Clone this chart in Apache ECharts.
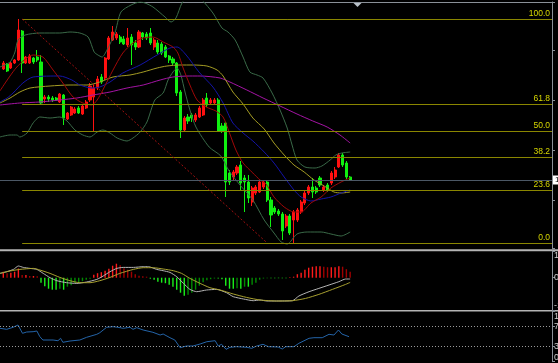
<!DOCTYPE html>
<html><head><meta charset="utf-8">
<script src="https://cdn.jsdelivr.net/npm/echarts@6/dist/echarts.min.js"></script>
<style>html,body{margin:0;padding:0;background:#000;overflow:hidden}#c{width:558px;height:363px}</style>
</head><body><div id="c"></div>
<script>
// ---- candles (bar index = position in arrays) ----
const open = [1.2931,1.2936,1.2932,1.2937,1.2940,1.2969,1.2937,1.2937,1.2942,1.2943,
1.2938,1.2901,1.2903,1.2902,1.2902,1.2898,1.2905,1.2881,1.2885,1.2887,
1.2892,1.2886,1.2892,1.2900,1.2903,1.2912,1.2923,1.2922,1.2941,1.2960,
1.2962,1.2963,1.2961,1.2955,1.2963,1.2957,1.2953,1.2967,1.2966,1.2967,
1.2953,1.2957,1.2956,1.2953,1.2944,1.2941,1.2937,1.2908,1.2870,1.2883,
1.2885,1.2880,1.2883,1.2885,1.2902,1.2897,1.2897,1.2900,1.2874,1.2877,
1.2827,1.2823,1.2827,1.2835,1.2822,1.2818,1.2798,1.2807,1.2808,1.2813,
1.2818,1.2800,1.2792,1.2789,1.2786,1.2774,1.2784,1.2780,1.2780,1.2788,
1.2797,1.2807,1.2813,1.2812,1.2822,1.2810,1.2815,1.2817,1.2823,1.2833,
1.2845,1.2837,1.2823];
const close = [1.2937,1.2929,1.2937,1.2940,1.2970,1.2937,1.2943,1.2944,1.2938,1.2940,
1.2897,1.2903,1.2901,1.2900,1.2900,1.2906,1.2882,1.2887,1.2893,1.2891,
1.2887,1.2894,1.2898,1.2914,1.2912,1.2921,1.2918,1.2942,1.2962,1.2968,
1.2966,1.2958,1.2956,1.2962,1.2955,1.2953,1.2968,1.2963,1.2962,1.2957,
1.2960,1.2948,1.2947,1.2943,1.2940,1.2937,1.2907,1.2870,1.2882,1.2879,
1.2882,1.2885,1.2892,1.2900,1.2895,1.2900,1.2900,1.2869,1.2869,1.2818,
1.2818,1.2828,1.2833,1.2817,1.2818,1.2802,1.2812,1.2813,1.2818,1.2818,
1.2800,1.2785,1.2788,1.2786,1.2769,1.2784,1.2767,1.2788,1.2790,1.2798,
1.2807,1.2813,1.2808,1.2808,1.2815,1.2813,1.2810,1.2827,1.2830,1.2845,
1.2835,1.2823,1.2820];
const low = [1.2930,1.2928,1.2931,1.2936,1.2939,1.2927,1.2936,1.2936,1.2936,1.2938,
1.2896,1.2897,1.2898,1.2898,1.2899,1.2897,1.2875,1.2880,1.2884,1.2886,
1.2886,1.2885,1.2891,1.2898,1.2868,1.2910,1.2916,1.2920,1.2940,1.2959,
1.2960,1.2956,1.2955,1.2953,1.2935,1.2950,1.2952,1.2960,1.2960,1.2955,
1.2950,1.2946,1.2945,1.2942,1.2937,1.2935,1.2904,1.2862,1.2868,1.2876,
1.2878,1.2878,1.2882,1.2884,1.2893,1.2895,1.2896,1.2868,1.2867,1.2803,
1.2815,1.2820,1.2825,1.2809,1.2788,1.2797,1.2794,1.2805,1.2807,1.2811,
1.2798,1.2773,1.2786,1.2784,1.2760,1.2772,1.2765,1.2757,1.2778,1.2786,
1.2795,1.2805,1.2802,1.2806,1.2813,1.2808,1.2808,1.2815,1.2821,1.2832,
1.2833,1.2821,1.2819];
const high = [1.2939,1.2937,1.2938,1.2941,1.2981,1.2970,1.2944,1.2946,1.2943,1.2950,
1.2945,1.2905,1.2905,1.2904,1.2903,1.2907,1.2906,1.2888,1.2894,1.2893,
1.2894,1.2896,1.2900,1.2917,1.2916,1.2924,1.2926,1.2943,1.2964,1.2974,
1.2968,1.2965,1.2964,1.2972,1.2966,1.2960,1.2970,1.2968,1.2968,1.2972,
1.2962,1.2960,1.2958,1.2955,1.2945,1.2943,1.2938,1.2910,1.2884,1.2886,
1.2887,1.2887,1.2894,1.2902,1.2907,1.2902,1.2902,1.2902,1.2877,1.2878,
1.2830,1.2830,1.2835,1.2839,1.2825,1.2825,1.2814,1.2815,1.2820,1.2820,
1.2820,1.2803,1.2794,1.2791,1.2788,1.2786,1.2786,1.2790,1.2792,1.2800,
1.2809,1.2815,1.2822,1.2814,1.2824,1.2815,1.2817,1.2829,1.2833,1.2847,
1.2847,1.2839,1.2824];

// ---- indicator lines, [bar index, value] ----
const bbUpper = [[-0.9,1.2933],[1.8,1.2938],[3.1,1.2948],[3.9,1.2960],[5.8,1.2965],[9.7,1.2967],[15.0,1.2967],[17.7,1.2968],[20.3,1.2967],[22.5,1.2963],[24.1,1.2948],[25.1,1.2945],[26.2,1.2943],[27.5,1.2950],[29.6,1.2967],[31.2,1.2988],[33.9,1.2995],[36.3,1.2998],[37.6,1.2997],[39.7,1.2993],[42.9,1.2983],[44.5,1.2978],[45.8,1.2982],[47.4,1.2997],[49.5,1.3006],[51.4,1.3004],[52.7,1.3000],[55.6,1.2987],[58.0,1.2972],[59.6,1.2968],[61.5,1.2960],[63.6,1.2943],[65.4,1.2928],[67.3,1.2925],[68.9,1.2922],[71.3,1.2907],[73.4,1.2890],[75.3,1.2872],[76.6,1.2855],[77.9,1.2840],[80.0,1.2833],[82.7,1.2832],[84.5,1.2834],[86.7,1.2840],[88.2,1.2845],[89.8,1.2847],[92.0,1.2848]];
const bbLower = [[-0.9,1.2863],[1.8,1.2865],[3.6,1.2865],[4.4,1.2863],[6.3,1.2867],[7.9,1.2877],[9.7,1.2883],[12.4,1.2882],[15.0,1.2883],[16.9,1.2879],[19.0,1.2870],[21.1,1.2865],[23.0,1.2863],[24.9,1.2868],[26.4,1.2870],[28.3,1.2867],[30.2,1.2862],[32.8,1.2859],[34.4,1.2862],[36.3,1.2868],[38.1,1.2878],[40.2,1.2900],[42.4,1.2907],[43.7,1.2920],[45.0,1.2928],[46.1,1.2932],[47.1,1.2925],[48.2,1.2908],[49.5,1.2890],[51.1,1.2873],[54.6,1.2853],[57.7,1.2844],[59.9,1.2829],[63.0,1.2814],[66.2,1.2800],[69.2,1.2780],[71.8,1.2767],[73.7,1.2758],[75.3,1.2756],[77.9,1.2766],[80.6,1.2768],[84.3,1.2768],[86.9,1.2766],[89.6,1.2764],[92.0,1.2768]];
const maRed = [[-0.9,1.2909],[3.6,1.2933],[7.9,1.2945],[10.5,1.2943],[13.2,1.2930],[15.8,1.2917],[18.5,1.2903],[21.1,1.2897],[23.5,1.2895],[24.9,1.2900],[26.4,1.2910],[29.1,1.2930],[31.7,1.2947],[34.4,1.2957],[37.1,1.2962],[39.7,1.2963],[42.4,1.2958],[45.0,1.2953],[46.3,1.2947],[47.7,1.2932],[49.5,1.2915],[51.4,1.2900],[53.8,1.2893],[56.4,1.2889],[58.3,1.2883],[59.9,1.2868],[61.7,1.2850],[63.6,1.2837],[66.2,1.2827],[68.1,1.2820],[69.7,1.2816],[71.8,1.2803],[74.5,1.2793],[77.1,1.2788],[79.0,1.2788],[81.6,1.2797],[84.3,1.2803],[86.9,1.2812],[89.6,1.2818],[92.0,1.2822]];
const maBlue = [[-0.9,1.2898],[1.0,1.2902],[2.6,1.2907],[5.2,1.2917],[7.9,1.2923],[15.0,1.2924],[18.2,1.2920],[20.3,1.2915],[23.5,1.2912],[25.6,1.2913],[28.3,1.2918],[31.7,1.2927],[36.3,1.2935],[40.8,1.2945],[44.2,1.2952],[46.1,1.2953],[48.5,1.2945],[51.9,1.2928],[55.6,1.2913],[58.3,1.2897],[60.9,1.2877],[63.6,1.2867],[66.2,1.2859],[69.2,1.2848],[71.8,1.2837],[74.5,1.2823],[77.1,1.2810],[79.0,1.2803],[81.6,1.2799],[84.3,1.2801],[86.9,1.2803],[89.6,1.2807],[92.0,1.2810]];
const maYellow = [[-0.9,1.2897],[1.8,1.2902],[4.4,1.2908],[7.1,1.2912],[12.4,1.2914],[17.7,1.2915],[22.2,1.2915],[25.6,1.2918],[29.1,1.2923],[33.6,1.2925],[37.1,1.2928],[40.8,1.2932],[43.4,1.2934],[46.9,1.2935],[50.3,1.2935],[54.0,1.2934],[56.7,1.2930],[58.3,1.2924],[60.9,1.2908],[63.6,1.2896],[66.2,1.2882],[69.2,1.2871],[71.8,1.2857],[74.5,1.2845],[77.1,1.2835],[79.8,1.2828],[82.4,1.2820],[85.1,1.2814],[87.7,1.2808],[89.6,1.2807],[92.0,1.2808]];
const maPurple = [[-0.9,1.2895],[4.4,1.2897],[9.7,1.2898],[15.0,1.2900],[19.5,1.2902],[23.8,1.2905],[28.3,1.2908],[32.8,1.2912],[37.1,1.2915],[41.6,1.2920],[45.0,1.2923],[49.5,1.2924],[52.2,1.2924],[57.5,1.2922],[60.1,1.2918],[64.6,1.2910],[68.9,1.2902],[73.4,1.2894],[77.9,1.2886],[82.1,1.2879],[85.9,1.2873],[89.3,1.2865],[92.0,1.2857]];

// ---- Fibonacci retracement ----
const fibLevels = [0.0, 23.6, 38.2, 50.0, 61.8, 100.0];
const fibHigh = 1.2981, fibLow = 1.2757;
const fibStartBar = 5, fibEndBar = 70;

// ---- MACD panel ----
const macdHist = [3,2.25,2.5,3,4.6,1.35,1.35,0.85,0.85,0.75,
-2.5,-4.25,-5.5,-6,-6,-5.5,-6,-4.5,-3.75,-2.75,
-2.25,-1.75,-1,-0.5,1.5,2.25,2.75,3.5,4.5,6,
7,6.25,4.75,4,3,1.75,1,0.75,0.5,-0.5,
-1,-2,-2.5,-2.75,-3.5,-4.5,-6,-7.5,-9,-8.5,
-7.5,-6,-4,-2.25,-1.25,-0.75,-0.4,-0.4,-0.75,-4,
-5.5,-5.5,-5.25,-5.5,-4.5,-4.5,-3.5,-2.5,-1,-0.4,
-0.25,-0.25,-0.25,-0.25,-0.25,-0.25,0.25,0.5,1.75,2.5,
4,5,5.5,5.75,5.75,5.5,5.25,5.25,5.25,5.75,
5.5,4.25,3];
const macdMain = [[-0.9,2.15],[0.9,3],[2.7,4.15],[4.0,5.85],[5.3,5.15],[7.1,4.65],[8.9,4.15],[10.6,2.15],[12.4,0],[14.2,-1.5],[16.8,-2.5],[19.5,-2.85],[22.1,-2.15],[24.8,-0.85],[26.5,0.85],[28.3,3],[30.1,4.65],[31.8,5.15],[34.5,5.15],[37.1,5.5],[38.5,5.5],[40.7,4.15],[42.4,3.5],[44.2,2.65],[46.0,0.5],[47.8,-2.85],[49.5,-5.85],[51.3,-7],[53.9,-6.15],[56.6,-5.85],[59.2,-7.5],[61.0,-9.5],[63.7,-10.65],[66.3,-11.5],[68.1,-11.15],[69.9,-11.65],[72.5,-11.65],[76.7,-11.5],[78.4,-9.15],[81.1,-7],[83.7,-5.35],[86.4,-3.65],[89.0,-2],[90.8,-0.65],[92.0,-0.65]];
const macdSignal = [[-0.9,2.15],[1.8,3.35],[4.4,4.15],[8.0,4.65],[9.7,3.85],[12.4,2.15],[15.0,0.15],[17.7,-1.5],[20.3,-2.5],[23.0,-2.5],[25.6,-1.5],[28.3,0.15],[30.9,2.15],[34.5,4.15],[37.1,5],[39.8,5],[42.4,4.35],[45.1,3.5],[47.3,2.15],[49.5,-0.35],[52.2,-2.85],[54.8,-5],[57.5,-6.15],[61.0,-8.15],[64.5,-9.85],[68.1,-11.15],[72.5,-11.65],[76.7,-11.5],[80.2,-10.35],[83.7,-8.35],[87.3,-5.85],[90.8,-3.35],[92.0,-2.35]];
const macdRange = [-16.15, 13.35];

// ---- RSI panel ----
const rsi = [[-0.9,66.8],[0.9,64.8],[2.6,68.8],[3.9,73.4],[5.1,56.8],[6.2,59.4],[7.9,60.0],[8.9,61.4],[9.7,50.0],[10.5,43.4],[13.2,43.4],[14.5,42.0],[15.2,46.8],[15.8,38.8],[17.7,41.4],[20.3,43.4],[22.1,48.8],[24.8,54.8],[25.6,58.0],[27.4,68.8],[29.1,70.0],[30.4,68.8],[31.8,66.8],[33.6,68.8],[34.4,64.8],[35.4,68.0],[37.1,63.4],[39.7,58.8],[41.6,53.4],[42.4,55.4],[44.2,48.0],[45.5,43.4],[46.9,28.0],[48.6,31.4],[50.3,31.4],[52.2,35.4],[54.0,40.0],[56.2,42.0],[57.0,31.4],[57.9,34.8],[59.1,24.8],[60.1,28.8],[61.9,30.0],[64.6,28.8],[65.9,26.8],[67.2,31.4],[68.9,34.8],[70.3,30.0],[72.9,29.4],[74.0,25.4],[74.9,30.0],[77.1,30.0],[78.4,36.8],[81.1,46.8],[82.4,48.0],[84.6,48.0],[86.4,54.8],[87.7,53.4],[88.9,63.4],[89.8,55.4],[91.7,50.0]];
const rsiLevels = [30, 70];
const rsiTicks = [0, 30, 70, 100];

// ---- build ----
const X_MIN = -0.875, X_MAX = 145.54;
const candles = open.map((o, i) => [i, o, close[i], low[i], high[i]]);
const lastClose = close[close.length - 1];
const GRAY = '#8a9098';
const FONT = 'Liberation Sans';

const fibMarks = fibLevels.map(l => {
  const p = fibLow + (fibHigh - fibLow) * l / 100;
  return [
    { coord: [fibStartBar, p], name: l.toFixed(1),
      lineStyle: { color: '#8a8600', width: 1, type: 'solid' },
      label: { show: true, position: 'insideEndTop', formatter: '{b}', color: '#d6d600',
               fontSize: 8.5, fontFamily: FONT, distance: [2, 1] } },
    { coord: [X_MAX, p] }
  ];
});
fibMarks.push([
  { coord: [fibStartBar, fibHigh], lineStyle: { color: '#a01010', width: 1, type: [2, 2] }, label: { show: false } },
  { coord: [fibEndBar, fibLow] }
]);
fibMarks.push({
  yAxis: lastClose, lineStyle: { color: '#4c5866', width: 1, type: 'solid' },
  label: { show: true, position: 'end', formatter: lastClose.toFixed(4), backgroundColor: '#ffffff',
           color: '#000', fontSize: 8, fontFamily: FONT, padding: [1, 2, 0, 2], distance: 1 }
});

function lineSeries(data, color, xi, yi, smooth) {
  return { type: 'line', data, xAxisIndex: xi, yAxisIndex: yi, showSymbol: false, symbol: 'none',
           smooth: smooth, silent: true, lineStyle: { color, width: 1 }, z: 3 };
}

const gridBase = { left: 0, right: 6, containLabel: false, outerBoundsMode: 'none' };
const chart = echarts.init(document.getElementById('c'), null, { renderer: 'canvas' });
chart.setOption({
  animation: false,
  backgroundColor: '#000000',
  grid: [
    Object.assign({ top: 2, height: 246 }, gridBase),
    Object.assign({ top: 251, height: 59 }, gridBase),
    Object.assign({ top: 311.7, height: 50 }, gridBase)
  ],
  xAxis: [0, 1, 2].map(g => ({
    gridIndex: g, type: 'value', min: X_MIN, max: X_MAX, position: 'top',
    axisLine: { show: g === 0, onZero: false, lineStyle: { color: GRAY } },
    axisTick: { show: false }, axisLabel: { show: false }, splitLine: { show: false }
  })),
  yAxis: [
    { gridIndex: 0, type: 'value', min: 1.2752, max: 1.2998, position: 'right',
      axisLine: { show: true, onZero: false, lineStyle: { color: GRAY } },
      axisTick: { show: true, length: 3, lineStyle: { color: GRAY } },
      axisLabel: { show: false }, splitLine: { show: false } },
    { gridIndex: 1, type: 'value', min: macdRange[0], max: macdRange[1], position: 'right',
      axisLine: { show: true, onZero: false, lineStyle: { color: GRAY } },
      axisTick: { show: true, length: 3, customValues: [macdRange[0], 0, macdRange[1]], lineStyle: { color: GRAY } },
      axisLabel: { show: true, customValues: [macdRange[0], 0, macdRange[1]], margin: 2, color: '#d0d0d0',
                   fontSize: 9, fontFamily: FONT, formatter: v => v.toFixed(2),
                   verticalAlignMinLabel: 'bottom', verticalAlignMaxLabel: 'top' },
      splitLine: { show: false } },
    { gridIndex: 2, type: 'value', min: 0, max: 100, position: 'right',
      axisLine: { show: true, onZero: false, lineStyle: { color: GRAY } },
      axisTick: { show: true, length: 3, customValues: rsiTicks, lineStyle: { color: GRAY } },
      axisLabel: { show: true, customValues: rsiTicks, margin: 2, color: '#d0d0d0',
                   fontSize: 9, fontFamily: FONT,
                   verticalAlignMinLabel: 'bottom', verticalAlignMaxLabel: 'top' },
      splitLine: { show: false } }
  ],
  series: [
    { type: 'candlestick', xAxisIndex: 0, yAxisIndex: 0, data: candles, barWidth: 2.6, silent: true, z: 2,
      itemStyle: { color: '#ff1010', color0: '#10f010', borderColor: '#ff1010', borderColor0: '#10f010', borderWidth: 1 },
      markLine: { symbol: ['none', 'none'], silent: true, animation: false, precision: 4, data: fibMarks } },
    lineSeries(bbUpper, '#3a6a48', 0, 0, 0.25),
    lineSeries(bbLower, '#3a6a48', 0, 0, 0.25),
    lineSeries(maPurple, '#a414a4', 0, 0, 0.25),
    lineSeries(maYellow, '#a49c24', 0, 0, 0.25),
    lineSeries(maBlue, '#1414a8', 0, 0, 0.25),
    lineSeries(maRed, '#a00808', 0, 0, 0.25),
    { type: 'bar', xAxisIndex: 1, yAxisIndex: 1, data: macdHist.map((v, i) => [i, v]), barWidth: 1.4, silent: true,
      itemStyle: { color: p => {
        const v = macdHist[p.dataIndex];
        const prev = p.dataIndex > 0 ? macdHist[p.dataIndex - 1] : v;
        const grow = Math.abs(v) >= Math.abs(prev);
        return v >= 0 ? (grow ? '#ff1a1a' : '#a00000') : (grow ? '#1af01a' : '#008c00');
      } } },
    lineSeries(macdMain, '#b4b4b4', 1, 1, 0.2),
    lineSeries(macdSignal, '#a8a030', 1, 1, 0.2),
    Object.assign(lineSeries(rsi, '#2464a8', 2, 2, false), {
      markLine: { symbol: ['none', 'none'], silent: true, animation: false, precision: 2,
        lineStyle: { color: '#9a9a9a', width: 1, type: [1, 2] }, label: { show: false },
        data: rsiLevels.map(v => ({ yAxis: v })) } })
  ],
  graphic: [
    { type: 'rect', silent: true, shape: { x: 0, y: 249.3, width: 558, height: 2 }, style: { fill: '#b4b4b4' } },
    { type: 'rect', silent: true, shape: { x: 0, y: 310, width: 558, height: 1.6 }, style: { fill: '#b4b4b4' } },
    { type: 'polygon', silent: true, shape: { points: [[353, 2.5], [362, 2.5], [357.5, 7]] }, style: { fill: '#b8c0c8' } }
  ]
});
</script></body></html>
